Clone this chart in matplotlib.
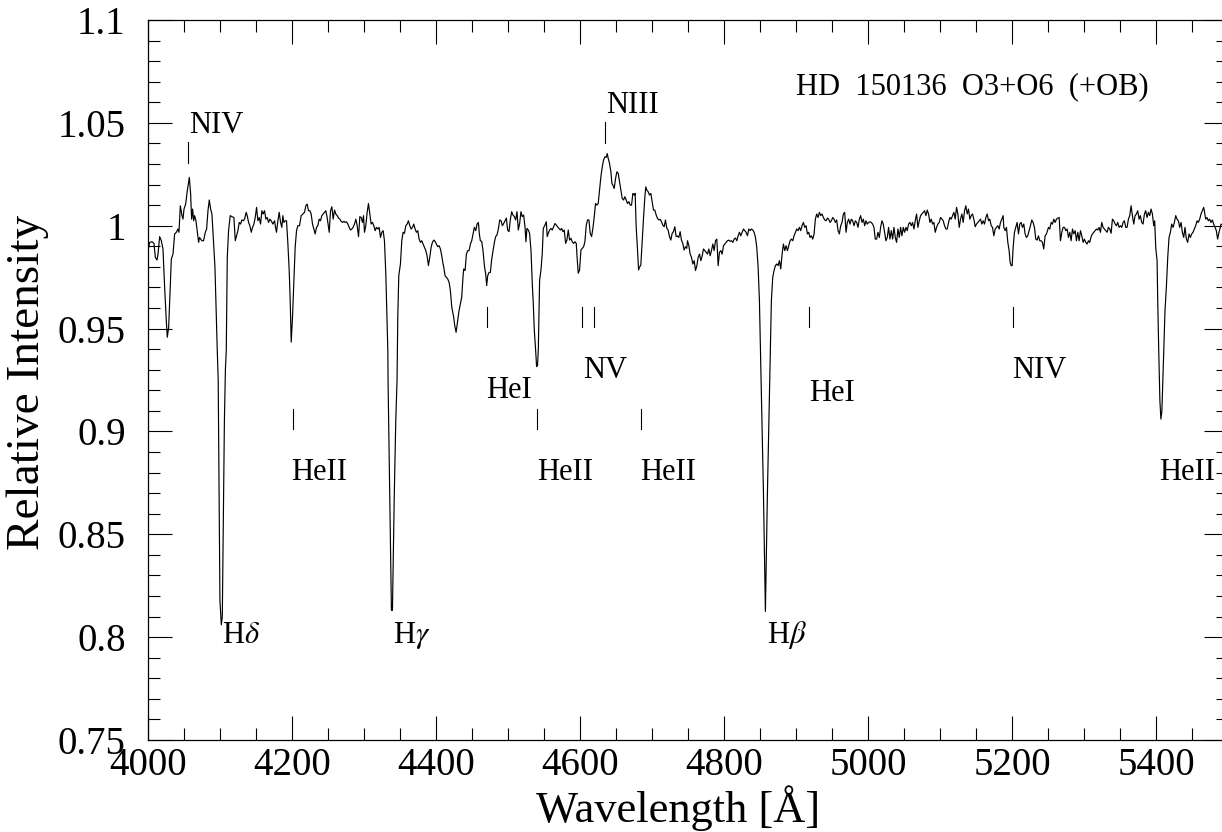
import numpy as np
import matplotlib
matplotlib.use("Agg")
import matplotlib.pyplot as plt
from matplotlib.ticker import MultipleLocator, FuncFormatter

# spectrum, in pieces
wl_a = [4000.0, 4002.3, 4005.6, 4008.3, 4010.2, 4012.5, 4013.9, 4016.2, 4018.5, 4020.8,
        4023.1, 4025.4, 4026.8, 4028.7, 4030.5, 4032.4, 4034.7, 4037.0, 4039.3, 4041.6,
        4043.0, 4044.9, 4047.2, 4048.6, 4050.0, 4052.3, 4054.6, 4057.4, 4059.2, 4060.6,
        4062.0, 4063.4, 4064.8, 4066.6, 4068.5, 4070.3, 4071.7, 4073.1, 4074.9, 4077.2,
        4079.6, 4081.4, 4083.3, 4085.1, 4087.0, 4088.8, 4091.1, 4093.0, 4094.8, 4096.2,
        4097.5, 4098.8, 4099.9, 4101.8, 4103.2, 4104.8, 4106.1, 4107.5, 4108.7, 4110.1,
        4111.9, 4114.2, 4116.6, 4119.3, 4121.2, 4123.0, 4124.9, 4126.7, 4128.6, 4130.4,
        4132.3, 4134.1, 4136.4, 4137.8, 4139.7, 4141.5, 4143.4, 4145.2, 4147.1, 4148.9,
        4150.8, 4152.6, 4154.5, 4156.3, 4158.2, 4160.0, 4161.9, 4163.7, 4165.6, 4167.4,
        4169.3, 4171.1, 4173.4, 4175.8, 4177.1, 4178.5, 4180.4, 4182.2, 4184.1, 4185.9,
        4187.3, 4188.7, 4190.6, 4192.4, 4194.3, 4196.1, 4197.5, 4198.9, 4200.7, 4202.6,
        4204.4, 4206.3, 4208.1, 4210.4, 4212.8, 4215.1, 4217.4, 4219.2, 4221.1, 4222.9,
        4224.8, 4226.6, 4228.5, 4230.3, 4232.2, 4234.0, 4235.9, 4237.7, 4239.6, 4241.4,
        4243.3, 4245.1, 4247.0, 4248.8]
fx_a = [0.9879, 0.9919, 0.9922, 0.9914, 0.9846, 0.9833, 0.9862, 0.9947, 0.9927, 0.9887,
        0.9701, 0.9539, 0.9458, 0.9506, 0.9668, 0.9838, 0.9862, 0.9960, 0.9968, 0.9984,
        0.9968, 1.0097, 1.0049, 1.0032, 1.0081, 1.0105, 1.0170, 1.0235, 1.0154, 1.0032,
        1.0081, 1.0024, 1.0049, 1.0024, 0.9968, 0.9919, 0.9943, 0.9935, 0.9927, 0.9927,
        0.9968, 0.9984, 1.0073, 1.0125, 1.0081, 1.0057, 0.9911, 0.9798, 0.9571, 0.9393,
        0.9250, 0.8700, 0.8180, 0.8060, 0.8100, 0.8600, 0.9050, 0.9300, 0.9393, 0.9846,
        0.9976, 1.0049, 1.0044, 1.0040, 0.9927, 0.9951, 0.9976, 1.0016, 1.0008, 1.0028,
        1.0024, 1.0032, 1.0065, 1.0049, 1.0016, 1.0000, 0.9968, 0.9992, 1.0008, 1.0040,
        1.0089, 1.0024, 1.0040, 1.0008, 1.0073, 1.0057, 1.0073, 1.0032, 1.0040, 1.0016,
        1.0032, 1.0024, 1.0008, 1.0024, 0.9992, 0.9968, 1.0024, 1.0065, 1.0016, 0.9992,
        1.0049, 1.0016, 1.0024, 1.0024, 0.9911, 0.9782, 0.9636, 0.9434, 0.9555, 0.9733,
        0.9895, 0.9976, 1.0000, 1.0000, 1.0049, 1.0057, 1.0065, 1.0097, 1.0105, 1.0073,
        1.0073, 1.0057, 1.0008, 0.9984, 0.9960, 0.9992, 1.0000, 1.0032, 1.0024, 1.0049,
        1.0057, 1.0065, 1.0073, 1.0040]

wl_b = [4251.7, 4253.5, 4255.4, 4257.2, 4259.1, 4260.9, 4262.8, 4264.6, 4266.5, 4268.3,
        4270.2, 4272.0, 4273.9, 4275.7, 4277.6, 4279.4, 4281.2, 4283.1, 4284.9, 4286.8,
        4288.7, 4290.5, 4292.4, 4294.2, 4296.1, 4297.9, 4299.3, 4300.7, 4302.5, 4304.4,
        4306.2, 4308.1, 4309.9, 4311.8, 4313.6, 4315.5, 4317.3, 4319.2, 4321.0, 4322.9,
        4324.7, 4326.6, 4328.4, 4330.3, 4331.7, 4333.1, 4333.4, 4335.8, 4338.1, 4339.5,
        4342.0, 4344.1, 4345.9, 4346.3, 4346.9, 4348.3, 4350.6, 4352.5, 4354.3, 4356.2,
        4358.0, 4359.9, 4361.7, 4363.6, 4365.4, 4367.3, 4369.1, 4371.0, 4372.8, 4374.7,
        4376.5, 4378.4, 4380.2, 4382.1, 4383.9, 4385.8, 4387.6, 4389.5, 4391.3, 4393.2,
        4395.0, 4396.9, 4398.7, 4400.6, 4402.4, 4404.3, 4406.1, 4408.0, 4409.8, 4410.8,
        4412.6, 4414.5, 4416.3, 4418.2, 4420.0, 4421.9, 4422.8, 4424.6, 4426.0, 4427.9,
        4430.2, 4432.0, 4433.9, 4435.7, 4437.6, 4438.5, 4440.4, 4442.2, 4444.1, 4445.9,
        4447.8, 4449.6, 4451.5, 4453.3, 4455.2, 4457.0, 4458.9, 4460.2, 4461.6, 4463.5,
        4465.3, 4467.2, 4469.0, 4470.4, 4471.8, 4473.7, 4475.5, 4477.4, 4479.2, 4481.1,
        4482.9, 4484.8, 4486.6, 4488.5, 4490.3, 4492.2, 4494.0, 4495.9, 4497.7]
fx_b = [0.9968, 1.0073, 1.0092, 1.0032, 1.0076, 1.0057, 1.0049, 1.0037, 1.0032, 1.0021,
        1.0016, 1.0021, 1.0016, 1.0019, 1.0008, 0.9992, 0.9979, 0.9984, 0.9992, 1.0008,
        1.0032, 1.0000, 0.9947, 1.0044, 1.0040, 1.0016, 1.0049, 0.9968, 1.0000, 1.0065,
        1.0108, 1.0057, 1.0008, 1.0016, 1.0000, 0.9976, 0.9992, 0.9984, 0.9992, 0.9943,
        0.9968, 0.9976, 0.9927, 0.9765, 0.9587, 0.9393, 0.9250, 0.8680, 0.8130, 0.8130,
        0.8680, 0.9050, 0.9250, 0.9393, 0.9555, 0.9757, 0.9814, 0.9927, 0.9968, 0.9963,
        1.0000, 1.0008, 1.0024, 1.0000, 0.9984, 0.9992, 1.0008, 0.9984, 0.9968, 0.9976,
        0.9935, 0.9919, 0.9927, 0.9911, 0.9895, 0.9879, 0.9854, 0.9806, 0.9846, 0.9895,
        0.9919, 0.9930, 0.9924, 0.9911, 0.9898, 0.9903, 0.9887, 0.9854, 0.9814, 0.9798,
        0.9757, 0.9749, 0.9741, 0.9725, 0.9684, 0.9604, 0.9587, 0.9555, 0.9515, 0.9482,
        0.9539, 0.9587, 0.9620, 0.9652, 0.9757, 0.9790, 0.9782, 0.9862, 0.9879, 0.9879,
        0.9911, 0.9927, 0.9960, 0.9992, 0.9976, 1.0008, 1.0016, 0.9960, 0.9927, 0.9924,
        0.9879, 0.9806, 0.9765, 0.9709, 0.9757, 0.9773, 0.9773, 0.9838, 0.9879, 0.9919,
        0.9947, 0.9956, 0.9984, 1.0028, 1.0024, 1.0000, 1.0011, 1.0024, 1.0037]

wl_c = [4499.5, 4501.4, 4503.2, 4505.1, 4506.9, 4508.8, 4510.6, 4512.5, 4514.3, 4516.2,
        4518.0, 4519.9, 4521.7, 4523.6, 4524.9, 4526.3, 4528.2, 4530.0, 4531.9, 4533.7,
        4535.1, 4536.5, 4538.3, 4539.7, 4541.0, 4542.1, 4543.9, 4545.8, 4547.6, 4549.0,
        4551.3, 4553.2, 4554.5, 4555.9, 4557.8, 4559.6, 4561.5, 4563.3, 4565.2, 4567.0,
        4568.9, 4570.7, 4572.6, 4574.4, 4576.3, 4578.1, 4580.0, 4581.8, 4583.7, 4585.5,
        4587.4, 4589.2, 4591.1, 4592.9, 4594.8, 4596.2, 4597.6, 4599.4, 4601.3, 4603.1,
        4605.0, 4606.8, 4608.7, 4610.5, 4612.4, 4614.2, 4616.1, 4617.9, 4619.8, 4621.6,
        4623.5, 4625.3, 4627.2, 4629.0, 4630.9, 4632.7, 4634.6, 4636.4, 4637.8, 4639.2,
        4641.0, 4642.9, 4644.3, 4645.7, 4647.5, 4649.4, 4651.2, 4653.1, 4654.9, 4656.8,
        4658.6, 4660.5, 4662.3, 4664.2, 4666.0, 4667.9, 4669.7, 4671.6, 4673.4, 4675.3,
        4676.6, 4678.0, 4679.9, 4681.3, 4683.1, 4684.5, 4686.4, 4688.2, 4690.1, 4691.4,
        4692.8, 4694.7, 4696.5, 4698.4, 4700.2, 4702.1, 4703.9, 4705.8, 4707.6, 4709.5,
        4711.3, 4713.2, 4715.0, 4716.9, 4718.7, 4720.6, 4722.4, 4724.3, 4726.1, 4728.0,
        4729.8, 4731.7, 4733.5, 4735.4, 4737.2, 4739.1, 4740.9, 4742.8, 4744.6, 4746.5,
        4748.3]
fx_c = [0.9979, 0.9971, 1.0028, 1.0068, 1.0052, 1.0044, 1.0028, 1.0068, 0.9979, 1.0011,
        1.0068, 1.0044, 1.0052, 0.9995, 0.9922, 0.9987, 0.9979, 0.9963, 0.9882, 0.9720,
        0.9623, 0.9494, 0.9400, 0.9315, 0.9320, 0.9400, 0.9736, 0.9785, 0.9866, 0.9987,
        1.0003, 1.0019, 0.9947, 0.9963, 0.9979, 0.9987, 0.9979, 0.9995, 1.0011, 1.0003,
        0.9995, 0.9987, 0.9979, 0.9987, 0.9971, 0.9979, 0.9914, 0.9930, 0.9979, 0.9930,
        0.9939, 0.9922, 0.9914, 0.9922, 0.9914, 0.9833, 0.9769, 0.9785, 0.9882, 0.9890,
        0.9898, 0.9922, 1.0003, 1.0028, 1.0028, 0.9963, 0.9947, 0.9987, 1.0044, 1.0108,
        1.0100, 1.0108, 1.0173, 1.0238, 1.0286, 1.0319, 1.0335, 1.0332, 1.0351, 1.0327,
        1.0303, 1.0262, 1.0206, 1.0197, 1.0181, 1.0230, 1.0262, 1.0254, 1.0214, 1.0173,
        1.0133, 1.0125, 1.0141, 1.0125, 1.0108, 1.0117, 1.0100, 1.0100, 1.0157, 1.0149,
        1.0157, 0.9995, 0.9882, 0.9785, 0.9801, 0.9809, 0.9930, 1.0036, 1.0141, 1.0189,
        1.0173, 1.0165, 1.0149, 1.0157, 1.0117, 1.0076, 1.0076, 1.0052, 1.0036, 1.0028,
        1.0031, 1.0019, 1.0003, 0.9995, 1.0028, 0.9987, 0.9979, 0.9947, 0.9930, 0.9963,
        0.9971, 0.9995, 0.9947, 0.9950, 0.9943, 0.9971, 0.9930, 0.9914, 0.9882, 0.9898,
        0.9890]

wl_d = [4749.3, 4751.2, 4753.0, 4754.9, 4756.7, 4758.6, 4760.4, 4762.3, 4764.1, 4766.0,
        4767.8, 4769.7, 4771.5, 4773.4, 4775.2, 4777.1, 4778.9, 4780.8, 4782.6, 4784.5,
        4786.3, 4788.2, 4790.0, 4791.9, 4793.7, 4795.6, 4797.4, 4799.3, 4801.1, 4803.0,
        4804.8, 4806.7, 4808.5, 4810.4, 4812.2, 4814.1, 4815.9, 4817.8, 4819.6, 4821.5,
        4823.3, 4825.2, 4827.0, 4828.9, 4830.7, 4832.6, 4834.4, 4836.3, 4838.1, 4840.0,
        4841.8, 4843.7, 4845.5, 4847.4, 4849.2, 4850.6, 4852.7, 4854.8, 4856.4, 4857.5,
        4858.6, 4860.3, 4862.4, 4864.4, 4865.8, 4867.7, 4869.5, 4871.4, 4873.3, 4875.1,
        4877.0, 4878.8, 4880.7, 4882.5, 4884.4, 4886.2, 4888.1, 4889.9, 4891.8, 4893.6,
        4895.5, 4897.3, 4899.2, 4901.0, 4902.9, 4904.7, 4906.6, 4908.4, 4910.3, 4912.1,
        4914.0, 4915.8, 4917.7, 4919.5, 4921.4, 4923.2, 4925.1, 4926.9, 4928.8, 4930.6,
        4932.5, 4934.3, 4936.2, 4938.0, 4939.9, 4941.7, 4943.6, 4945.4, 4947.3, 4949.1,
        4951.0, 4952.8, 4954.7, 4956.5, 4958.4, 4960.2, 4962.1, 4963.9, 4965.8, 4967.6,
        4969.5, 4971.3, 4973.2, 4975.0, 4976.9, 4978.7, 4980.6, 4982.4, 4984.3, 4986.1,
        4988.0, 4989.8, 4991.7, 4993.5, 4995.4, 4997.2]
fx_d = [0.9927, 0.9903, 0.9862, 0.9846, 0.9814, 0.9830, 0.9782, 0.9806, 0.9846, 0.9862,
        0.9830, 0.9854, 0.9887, 0.9879, 0.9871, 0.9862, 0.9887, 0.9854, 0.9879, 0.9911,
        0.9879, 0.9927, 0.9935, 0.9806, 0.9871, 0.9879, 0.9862, 0.9903, 0.9911, 0.9919,
        0.9927, 0.9930, 0.9924, 0.9927, 0.9919, 0.9935, 0.9940, 0.9927, 0.9951, 0.9968,
        0.9951, 0.9968, 0.9984, 0.9976, 0.9968, 0.9951, 0.9984, 0.9976, 0.9984, 0.9979,
        0.9968, 0.9943, 0.9895, 0.9798, 0.9636, 0.9393, 0.9050, 0.8700, 0.8350, 0.8125,
        0.8350, 0.8700, 0.9050, 0.9393, 0.9636, 0.9749, 0.9782, 0.9806, 0.9814, 0.9806,
        0.9830, 0.9790, 0.9862, 0.9911, 0.9879, 0.9903, 0.9879, 0.9903, 0.9927, 0.9935,
        0.9927, 0.9951, 0.9968, 0.9984, 0.9976, 0.9992, 0.9976, 1.0000, 1.0016, 0.9992,
        1.0000, 0.9960, 0.9968, 0.9943, 0.9951, 0.9935, 0.9960, 1.0032, 1.0057, 1.0040,
        1.0065, 1.0049, 1.0057, 1.0040, 1.0028, 1.0024, 1.0037, 1.0032, 1.0016, 1.0024,
        1.0040, 1.0032, 1.0016, 1.0028, 0.9976, 0.9960, 1.0000, 1.0016, 1.0057, 1.0065,
        0.9968, 1.0016, 1.0032, 1.0008, 1.0032, 1.0024, 1.0000, 1.0024, 1.0016, 0.9992,
        1.0032, 1.0049, 1.0016, 1.0032, 1.0000, 1.0024]

wl_e = [4999.0, 5000.9, 5002.7, 5004.6, 5006.4, 5008.3, 5010.1, 5012.0, 5013.8, 5015.7,
        5017.5, 5019.4, 5021.2, 5023.1, 5024.9, 5026.8, 5028.6, 5030.5, 5032.3, 5034.2,
        5036.0, 5037.9, 5039.7, 5041.6, 5043.4, 5045.3, 5047.1, 5049.0, 5050.8, 5052.7,
        5054.5, 5056.4, 5058.2, 5060.1, 5061.9, 5063.8, 5065.6, 5067.5, 5069.3, 5071.2,
        5073.0, 5074.9, 5076.7, 5078.6, 5080.4, 5082.3, 5084.1, 5086.0, 5087.8, 5089.7,
        5091.5, 5093.4, 5095.2, 5097.1, 5098.9, 5100.8, 5102.6, 5104.5, 5106.3, 5108.2,
        5110.0, 5111.9, 5113.7, 5115.6, 5117.4, 5119.3, 5121.1, 5123.0, 5124.8, 5126.7,
        5128.5, 5130.4, 5132.2, 5134.1, 5135.9, 5137.8, 5139.6, 5141.5, 5143.3, 5145.2,
        5147.0, 5148.9, 5150.7, 5152.6, 5154.4, 5156.3, 5158.1, 5160.0, 5161.8, 5163.7,
        5165.5, 5167.4, 5169.2, 5171.1, 5172.9, 5174.8, 5176.6, 5178.5, 5180.3, 5182.2,
        5184.0, 5185.9, 5187.7, 5188.6, 5190.5, 5192.3, 5194.2, 5196.0, 5197.4, 5198.8,
        5200.2, 5201.6, 5203.4, 5205.3, 5207.1, 5209.0, 5210.8, 5212.7, 5214.5, 5216.4,
        5218.2, 5220.1, 5221.9, 5223.8, 5225.6, 5227.5, 5229.3, 5231.2, 5233.0, 5234.9,
        5236.7, 5238.6, 5240.4, 5242.3, 5244.1, 5246.0, 5247.8]
fx_e = [1.0008, 1.0016, 1.0019, 1.0016, 1.0008, 0.9992, 0.9935, 0.9935, 0.9968, 0.9943,
        0.9992, 1.0024, 1.0008, 0.9968, 0.9927, 0.9943, 0.9992, 0.9935, 0.9976, 0.9935,
        0.9992, 0.9943, 0.9919, 0.9984, 0.9943, 0.9992, 0.9951, 0.9992, 0.9968, 0.9992,
        0.9976, 1.0008, 1.0016, 1.0000, 1.0016, 0.9984, 1.0024, 1.0057, 0.9992, 1.0024,
        1.0049, 1.0057, 1.0065, 1.0073, 1.0049, 1.0076, 1.0057, 1.0016, 1.0032, 1.0008,
        1.0016, 0.9968, 0.9992, 1.0008, 1.0016, 1.0040, 1.0032, 1.0024, 1.0000, 0.9984,
        0.9984, 1.0016, 1.0040, 1.0032, 1.0049, 1.0065, 1.0032, 1.0089, 1.0057, 0.9992,
        1.0032, 1.0057, 1.0016, 1.0073, 1.0097, 1.0057, 1.0081, 1.0032, 1.0049, 1.0057,
        1.0032, 0.9995, 1.0008, 1.0016, 1.0024, 1.0032, 1.0008, 1.0024, 1.0008, 1.0040,
        1.0057, 1.0024, 1.0032, 1.0000, 0.9992, 0.9951, 0.9984, 0.9992, 1.0000, 0.9984,
        1.0016, 1.0032, 1.0049, 0.9992, 0.9976, 0.9992, 0.9919, 0.9879, 0.9822, 0.9806,
        0.9806, 0.9895, 0.9968, 0.9992, 1.0016, 0.9960, 1.0008, 1.0016, 0.9992, 1.0008,
        0.9960, 0.9943, 0.9951, 0.9976, 1.0000, 1.0028, 1.0016, 0.9992, 0.9935, 0.9930,
        0.9951, 0.9927, 0.9927, 0.9919, 0.9887, 0.9951, 0.9960]

wl_f = [5250.7, 5252.5, 5254.4, 5256.2, 5258.1, 5259.9, 5261.8, 5263.6, 5265.5, 5267.3,
        5269.2, 5271.0, 5272.9, 5274.7, 5276.6, 5278.4, 5280.3, 5282.1, 5284.0, 5285.8,
        5287.7, 5289.5, 5291.4, 5293.2, 5295.1, 5296.9, 5298.8, 5300.6, 5302.5, 5304.3,
        5306.2, 5308.0, 5309.9, 5311.7, 5313.6, 5315.4, 5317.3, 5319.1, 5321.0, 5322.8,
        5324.7, 5326.5, 5328.4, 5330.2, 5332.1, 5333.9, 5335.8, 5337.6, 5339.5, 5341.3,
        5343.2, 5345.0, 5346.9, 5348.7, 5350.6, 5352.4, 5354.3, 5356.1, 5358.0, 5359.8,
        5361.7, 5363.5, 5365.4, 5367.2, 5369.1, 5370.9, 5372.8, 5374.6, 5376.5, 5378.3,
        5380.2, 5382.0, 5383.9, 5385.7, 5387.6, 5389.4, 5391.3, 5393.1, 5395.0, 5396.8,
        5398.2, 5399.6, 5401.5, 5402.4, 5403.8, 5405.4, 5406.8, 5408.2, 5409.5, 5410.7,
        5412.5, 5414.4, 5416.3, 5418.1, 5420.0, 5421.8, 5423.7, 5425.5, 5427.4, 5429.2,
        5431.1, 5432.9, 5434.8, 5436.6, 5438.5, 5440.3, 5442.2, 5444.0, 5445.9, 5447.7,
        5449.6, 5451.4, 5453.3, 5455.1, 5457.0, 5458.8, 5460.7, 5462.5, 5464.4, 5466.2,
        5467.1, 5469.0, 5470.8, 5472.7, 5474.5, 5476.4, 5478.2, 5480.1, 5481.9, 5483.8,
        5485.6, 5487.5, 5489.3, 5490.3, 5494.0, 5498.0]
fx_f = [0.9992, 0.9984, 1.0016, 1.0008, 1.0032, 1.0016, 1.0032, 1.0037, 1.0040, 0.9927,
        0.9968, 0.9992, 0.9992, 0.9976, 0.9984, 0.9943, 0.9968, 0.9927, 0.9984, 0.9960,
        0.9976, 0.9927, 0.9968, 0.9927, 0.9976, 0.9951, 0.9919, 0.9935, 0.9919, 0.9911,
        0.9927, 0.9919, 0.9947, 0.9960, 0.9968, 0.9976, 0.9984, 0.9979, 0.9992, 0.9968,
        1.0016, 0.9992, 0.9984, 0.9976, 0.9968, 0.9992, 0.9984, 0.9963, 1.0032, 1.0024,
        1.0008, 1.0000, 1.0016, 0.9992, 1.0000, 0.9992, 1.0016, 1.0024, 0.9992, 0.9992,
        1.0032, 1.0049, 1.0097, 1.0049, 1.0008, 1.0049, 1.0057, 1.0073, 1.0032, 1.0049,
        1.0016, 1.0008, 1.0057, 1.0073, 1.0040, 1.0065, 1.0049, 1.0081, 1.0057, 1.0000,
        1.0024, 0.9895, 0.9830, 0.9636, 0.9393, 0.9150, 0.9060, 0.9100, 0.9250, 0.9393,
        0.9587, 0.9701, 0.9846, 0.9943, 0.9968, 1.0008, 0.9992, 1.0016, 1.0049, 1.0032,
        1.0024, 0.9992, 1.0016, 0.9968, 0.9943, 0.9992, 0.9935, 0.9919, 0.9960, 0.9943,
        0.9960, 0.9968, 0.9984, 1.0000, 1.0024, 1.0016, 1.0032, 1.0057, 1.0073, 1.0089,
        1.0073, 1.0032, 1.0040, 1.0024, 1.0032, 1.0016, 1.0028, 1.0008, 0.9992, 0.9976,
        0.9935, 0.9968, 0.9992, 1.0008, 1.0000, 0.9980]

# line identifications: (label, tick wavelength, tick y0, tick y1, text x, text y)
id_names = ["NIV", "NIII", "HeI", "HeI", "NIV", "HeII", "HeII", "HeII"]
id_wl = [4055.9, 4634.1, 4471.3, 4918.5, 5201.6, 4200.8, 4540.2, 4684.1]
id_y0 = [1.0303, 1.0403, 0.9508, 0.9508, 0.9508, 0.9012, 0.9012, 0.9012]
id_y1 = [1.0406, 1.0503, 0.9605, 0.9605, 0.9605, 0.9109, 0.9109, 0.9109]
txt_x = [4057.3, 4636.5, 4470.0, 4918.5, 5200.2, 4199.4, 4541.1, 4684.1]
txt_y = [1.0452, 1.0548, 0.9161, 0.9146, 0.9258, 0.8765, 0.8765, 0.8765]

nv_wl = [4603.2, 4619.3]
extra_names = ["NV", "HeII", r"H$\delta$", r"H$\gamma$", r"H$\beta$"]
extra_x = [4605.0, 5404.2, 4102.3, 4339.9, 4860.3]
extra_y = [0.9258, 0.8765, 0.7970, 0.7970, 0.7970]

title = "HD  150136  O3+O6  (+OB)"

plt.rcParams["font.family"] = ["Liberation Serif", "DejaVu Serif"]
plt.rcParams["mathtext.fontset"] = "stix"

wl = np.concatenate([wl_a, wl_b, wl_c, wl_d, wl_e, wl_f])
fx = np.concatenate([fx_a, fx_b, fx_c, fx_d, fx_e, fx_f])

fig = plt.figure(figsize=(12.22, 8.32), dpi=100)
ax = fig.add_axes([148 / 1222, 1 - 740 / 832, 1080 / 1222, 720 / 832])
ax.plot(wl, fx, color="black", lw=0.85)

ax.set_xlim(4000, 5500)
ax.set_ylim(0.75, 1.1)
ax.xaxis.set_major_locator(MultipleLocator(200))
ax.xaxis.set_minor_locator(MultipleLocator(50))
ax.yaxis.set_major_locator(MultipleLocator(0.05))
ax.yaxis.set_minor_locator(MultipleLocator(0.01))
ax.yaxis.set_major_formatter(FuncFormatter(lambda v, p: "%g" % round(v, 2)))
ax.tick_params(which="both", direction="in", top=True, right=True, width=0.8,
               labelsize=28)
ax.tick_params(which="major", length=17)
ax.tick_params(which="minor", length=8.5)
ax.tick_params(axis="x", pad=5)
ax.tick_params(axis="y", pad=16)
for s in ax.spines.values():
    s.set_linewidth(0.9)

for i in range(len(id_names)):
    ax.plot([id_wl[i], id_wl[i]], [id_y0[i], id_y1[i]], color="black", lw=0.8)
    ax.text(txt_x[i], txt_y[i], id_names[i], fontsize=22, ha="left", va="baseline")
for w in nv_wl:
    ax.plot([w, w], [0.9508, 0.9605], color="black", lw=0.8)
for i in range(len(extra_names)):
    ax.text(extra_x[i], extra_y[i], extra_names[i], fontsize=22, ha="left", va="baseline")

ax.text(4900.5, 1.0637, title, fontsize=22, ha="left", va="baseline")

fig.text(28 / 1222, 1 - 382 / 832, "Relative Intensity", rotation=90, fontsize=34,
         ha="center", va="center")
fig.text(678 / 1222, 1 - 808 / 832, "Wavelength [Å]", fontsize=32,
         ha="center", va="center")

fig.savefig("out.png", dpi=100)
